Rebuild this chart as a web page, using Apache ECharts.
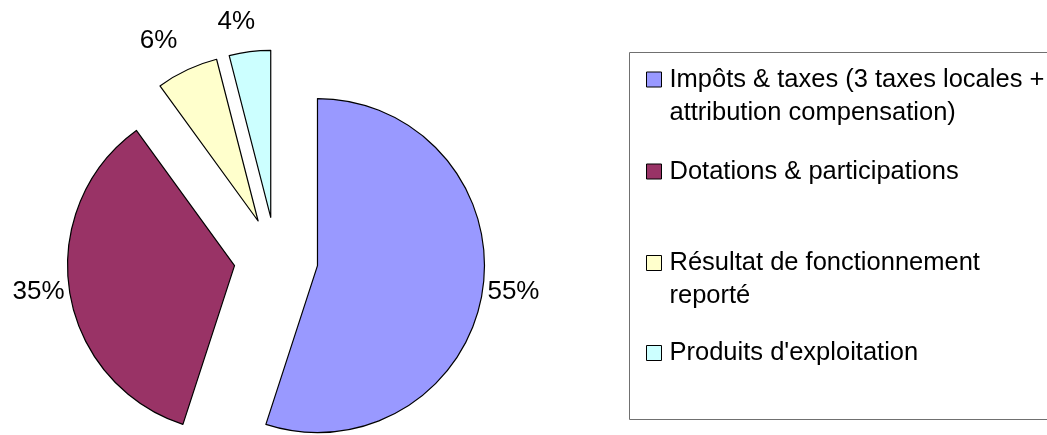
<!DOCTYPE html>
<html>
<head>
<meta charset="utf-8">
<script src="https://cdn.jsdelivr.net/npm/echarts@6/dist/echarts.min.js"></script>
<style>
  html, body { margin: 0; padding: 0; background: #fff; }
  #chart { width: 1047px; height: 435px; }
</style>
</head>
<body>
<div id="chart"></div>
<script>
// ---- data ----
const categories = [
  'Impôts & taxes (3 taxes locales + attribution compensation)',
  'Dotations & participations',
  'Résultat de fonctionnement reporté',
  "Produits d'exploitation"
];
const legendLabels = [
  'Impôts & taxes (3 taxes locales +\nattribution compensation)',
  'Dotations & participations',
  'Résultat de fonctionnement\nreporté',
  "Produits d'exploitation"
];
const values = [55, 35, 6, 4];

// ---- styles ----
const colors = ['#9999FF', '#993366', '#FFFFCC', '#CCFFFF'];
const labelLen = [0, 0, 32, 30];
const labelDist = [5, 5, -4, -9];
const legendTops = [30, 155, 213.5, 336.5];
const FONT = '"Liberation Sans", Arial, sans-serif';
const FS = 26;
const LFS = 25.5;

const chart = echarts.init(document.getElementById('chart'), null, { renderer: 'canvas' });

const legends = categories.map((name, i) => {
  const twoLines = legendLabels[i].indexOf('\n') >= 0;
  return {
    data: [name],
    orient: 'vertical',
    left: 646,
    top: legendTops[i],
    padding: 0,
    itemWidth: 15,
    itemHeight: 15,
    icon: 'rect',
    selectedMode: false,
    // a leading empty line keeps the icon level with the first text line
    formatter: () => (twoLines ? '\n' : '') + legendLabels[i],
    itemStyle: { borderColor: '#000', borderWidth: 1 },
    textStyle: {
      fontFamily: FONT,
      fontSize: LFS,
      color: '#000',
      lineHeight: 33,
      padding: [0, 0, 0, 3]
    }
  };
});

chart.setOption({
  animation: false,
  backgroundColor: '#fff',
  graphic: [{
    type: 'rect',
    shape: { x: 629.5, y: 52.5, width: 450, height: 367 },
    style: { fill: 'none', stroke: '#707070', lineWidth: 1 },
    silent: true
  }],
  legend: legends,
  series: [{
    type: 'pie',
    center: [276, 259],
    radius: 167,
    startAngle: 90,
    clockwise: true,
    selectedMode: 'multiple',
    selectedOffset: 42,
    avoidLabelOverlap: false,
    percentPrecision: 0,
    emphasis: { disabled: true },
    select: { itemStyle: { borderColor: '#000', borderWidth: 1.2 } },
    itemStyle: { borderColor: '#000', borderWidth: 1.2 },
    label: {
      show: true,
      position: 'outside',
      formatter: '{d}%',
      fontFamily: FONT,
      fontSize: FS,
      color: '#000'
    },
    labelLine: { show: false, length: 0, length2: 0 },
    data: categories.map((name, i) => ({
      name: name,
      value: values[i],
      selected: true,
      itemStyle: { color: colors[i] },
      label: { distanceToLabelLine: labelDist[i] },
      labelLine: { show: false, length: labelLen[i], length2: 0 }
    }))
  }]
});
</script>
</body>
</html>
